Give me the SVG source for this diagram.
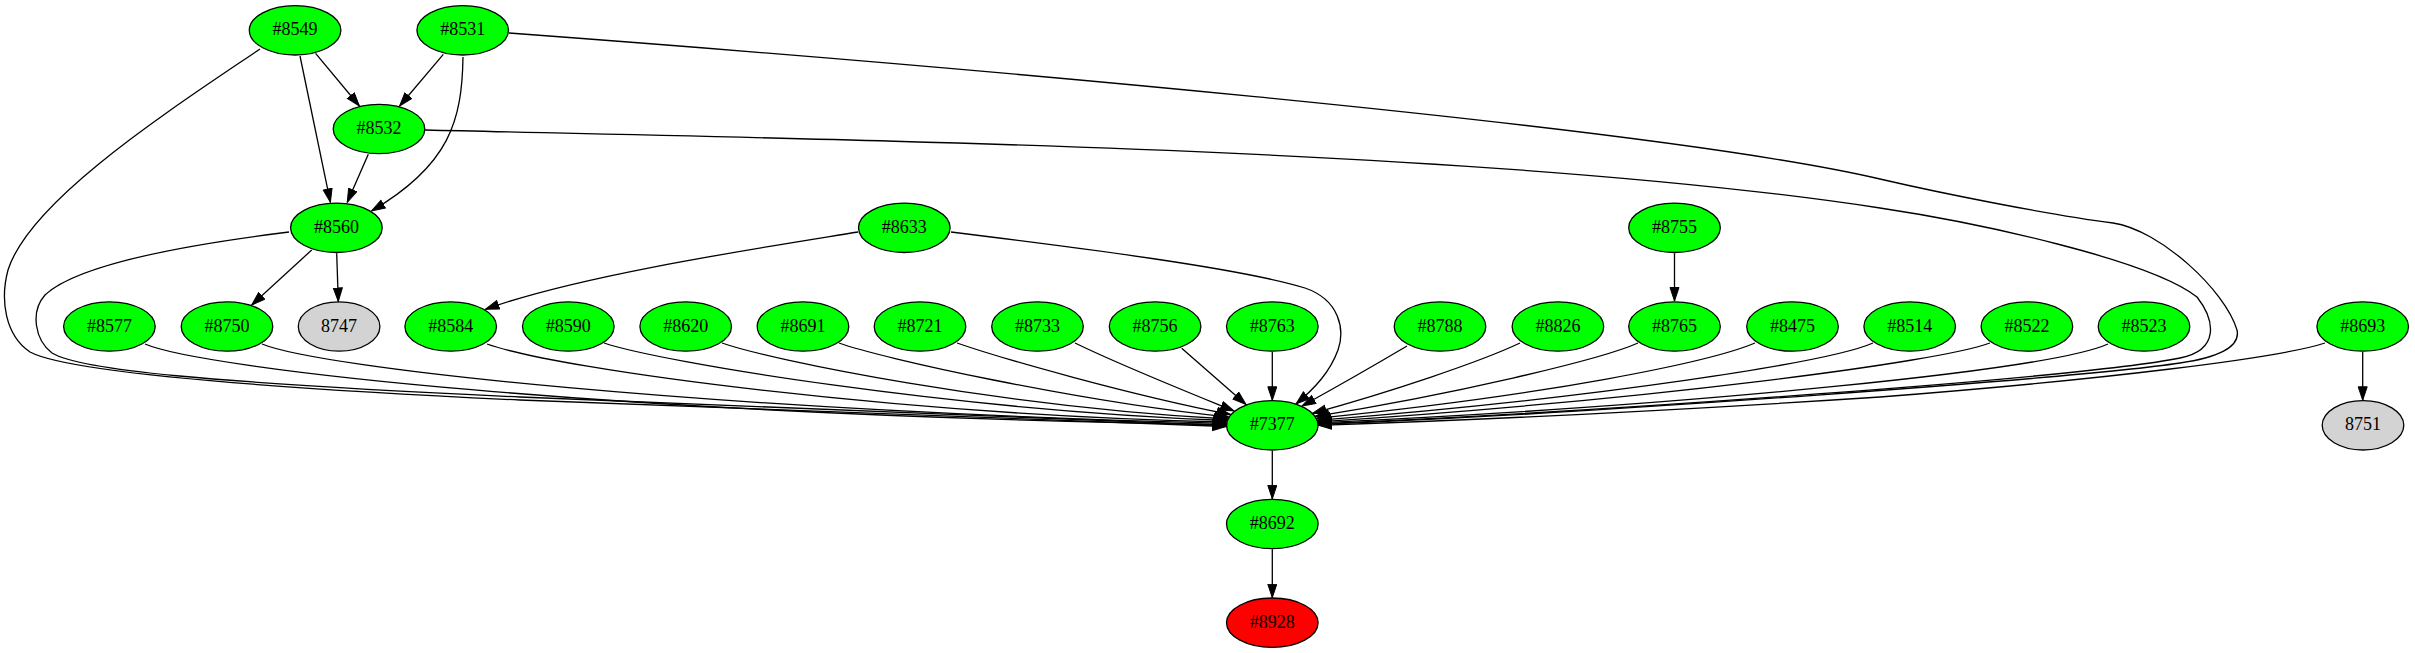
<svg xmlns="http://www.w3.org/2000/svg" width="2415" height="653" viewBox="0 0 2415 653">
<style>
.n ellipse{stroke:#000;stroke-width:1.3}
.g ellipse{fill:#00ff00}
.y ellipse{fill:#d3d3d3}
.r ellipse{fill:#ff0000}
.n text{font-family:"Liberation Serif","Times New Roman",serif;font-size:18px;fill:#000;text-anchor:middle}
#edges path{fill:none;stroke:#000;stroke-width:1.3;marker-end:url(#ah)}
</style>
<defs>
<marker id="ah" markerUnits="userSpaceOnUse" markerWidth="16" markerHeight="12" viewBox="0 0 16 12" refX="14" refY="5" orient="auto">
<path d="M0.5,0.5 L14,5 L0.5,9.5 z" fill="#000" stroke="#000" stroke-width="1"/>
</marker>
</defs>
<rect width="2415" height="653" fill="#fff"/>
<g id="n8549" class="n g"><ellipse cx="295.1" cy="30.3" rx="45.8" ry="24.7"/><text x="295.1" y="35.3">#8549</text></g>
<g id="n8531" class="n g"><ellipse cx="462.7" cy="30.3" rx="45.8" ry="24.7"/><text x="462.7" y="35.3">#8531</text></g>
<g id="n8532" class="n g"><ellipse cx="379" cy="129" rx="45.8" ry="24.7"/><text x="379" y="134">#8532</text></g>
<g id="n8560" class="n g"><ellipse cx="336.4" cy="227.8" rx="45.8" ry="24.7"/><text x="336.4" y="232.8">#8560</text></g>
<g id="n8633" class="n g"><ellipse cx="904.3" cy="227.8" rx="45.8" ry="24.7"/><text x="904.3" y="232.8">#8633</text></g>
<g id="n8755" class="n g"><ellipse cx="1674.5" cy="227.8" rx="45.8" ry="24.7"/><text x="1674.5" y="232.8">#8755</text></g>
<g id="n8577" class="n g"><ellipse cx="109.4" cy="326.5" rx="45.8" ry="24.7"/><text x="109.4" y="331.5">#8577</text></g>
<g id="n8750" class="n g"><ellipse cx="227" cy="326.5" rx="45.8" ry="24.7"/><text x="227" y="331.5">#8750</text></g>
<g id="n8747" class="n y"><ellipse cx="339.1" cy="326.5" rx="40.8" ry="24.7"/><text x="339.1" y="331.5">8747</text></g>
<g id="n8584" class="n g"><ellipse cx="450.7" cy="326.5" rx="45.8" ry="24.7"/><text x="450.7" y="331.5">#8584</text></g>
<g id="n8590" class="n g"><ellipse cx="568.3" cy="326.5" rx="45.8" ry="24.7"/><text x="568.3" y="331.5">#8590</text></g>
<g id="n8620" class="n g"><ellipse cx="685.7" cy="326.5" rx="45.8" ry="24.7"/><text x="685.7" y="331.5">#8620</text></g>
<g id="n8691" class="n g"><ellipse cx="803" cy="326.5" rx="45.8" ry="24.7"/><text x="803" y="331.5">#8691</text></g>
<g id="n8721" class="n g"><ellipse cx="920" cy="326.5" rx="45.8" ry="24.7"/><text x="920" y="331.5">#8721</text></g>
<g id="n8733" class="n g"><ellipse cx="1037.5" cy="326.5" rx="45.8" ry="24.7"/><text x="1037.5" y="331.5">#8733</text></g>
<g id="n8756" class="n g"><ellipse cx="1155.1" cy="326.5" rx="45.8" ry="24.7"/><text x="1155.1" y="331.5">#8756</text></g>
<g id="n8763" class="n g"><ellipse cx="1272.3" cy="326.5" rx="45.8" ry="24.7"/><text x="1272.3" y="331.5">#8763</text></g>
<g id="n8788" class="n g"><ellipse cx="1440" cy="326.5" rx="45.8" ry="24.7"/><text x="1440" y="331.5">#8788</text></g>
<g id="n8826" class="n g"><ellipse cx="1557.9" cy="326.5" rx="45.8" ry="24.7"/><text x="1557.9" y="331.5">#8826</text></g>
<g id="n8765" class="n g"><ellipse cx="1674.5" cy="326.5" rx="45.8" ry="24.7"/><text x="1674.5" y="331.5">#8765</text></g>
<g id="n8475" class="n g"><ellipse cx="1792.5" cy="326.5" rx="45.8" ry="24.7"/><text x="1792.5" y="331.5">#8475</text></g>
<g id="n8514" class="n g"><ellipse cx="1909.7" cy="326.5" rx="45.8" ry="24.7"/><text x="1909.7" y="331.5">#8514</text></g>
<g id="n8522" class="n g"><ellipse cx="2026.9" cy="326.5" rx="45.8" ry="24.7"/><text x="2026.9" y="331.5">#8522</text></g>
<g id="n8523" class="n g"><ellipse cx="2144" cy="326.5" rx="45.8" ry="24.7"/><text x="2144" y="331.5">#8523</text></g>
<g id="n8693" class="n g"><ellipse cx="2362.7" cy="326.5" rx="45.8" ry="24.7"/><text x="2362.7" y="331.5">#8693</text></g>
<g id="n7377" class="n g"><ellipse cx="1272.3" cy="425.3" rx="45.8" ry="24.7"/><text x="1272.3" y="430.3">#7377</text></g>
<g id="n8751" class="n y"><ellipse cx="2363" cy="425.3" rx="40.8" ry="24.7"/><text x="2363" y="430.3">8751</text></g>
<g id="n8692" class="n g"><ellipse cx="1272.3" cy="524" rx="45.8" ry="24.7"/><text x="1272.3" y="529">#8692</text></g>
<g id="n8928" class="n r"><ellipse cx="1272.3" cy="622.7" rx="45.8" ry="24.7"/><text x="1272.3" y="627.7">#8928</text></g>
<g id="edges">
<path d="M315.6,53.3 L359.4,106"/>
<path d="M300,56 L330.4,202.3"/>
<path d="M443.3,54.3 L399.6,106"/>
<path d="M463,57 C462,120 450,165 371.5,211"/>
<path d="M368.3,154.3 L347.3,202.3"/>
<path d="M311.7,250 L251.7,305"/>
<path d="M336.7,253.3 L338.3,301.5"/>
<path d="M858,232 C760,248 580,275 485.5,309.3"/>
<path d="M951,232 C1080,248 1240,268 1305,288 C1340,300 1345,330 1338,350 C1330,372 1315,388 1296,404"/>
<path d="M1674.5,253.3 L1674.5,301"/>
<path d="M2362.7,352 L2362.7,400.3"/>
<path d="M1272.3,352 L1272.3,400.3"/>
<path d="M1272.3,450.7 L1272.3,498.9"/>
<path d="M1272.3,549.3 L1272.3,597.7"/>
<path d="M260,49 C170,110 30,200 8,270 C0,300 5,335 30,352 C60,368 200,385 520,400 C800,412 1050,421 1226.3,426.5"/>
<path d="M289,232 C200,243 80,262 45,295 C30,312 35,340 52,353 C80,370 200,382 520,397 C800,410 1050,419 1226.3,425.5"/>
<path d="M145,344 C200,368 600,415 1226.3,424.5"/>
<path d="M262,344 C320,368 700,410 1226.4,423.3"/>
<path d="M487,344 C560,370 900,415 1226.6,422"/>
<path d="M604,343 C660,362 950,410 1227,420.5"/>
<path d="M722,343 C770,360 1000,407 1227.7,419"/>
<path d="M839,343 C880,358 1080,402 1228.7,417"/>
<path d="M957,343 C1000,358 1130,395 1230.5,414.5"/>
<path d="M1075,343 C1120,365 1190,393 1234,411"/>
<path d="M1181.7,348.3 L1246,404.5"/>
<path d="M1407,346 C1380,362 1340,385 1302,406"/>
<path d="M1520,343 C1480,362 1390,392 1312.6,413.3"/>
<path d="M1638,343 C1600,360 1450,395 1315.3,416.3"/>
<path d="M1755,343 C1710,362 1550,395 1316.5,418.3"/>
<path d="M1873,343 C1830,362 1600,398 1317.4,420.3"/>
<path d="M1990,343 C1940,362 1650,400 1318,421.8"/>
<path d="M2108,344 C2050,370 1700,405 1318.2,422.8"/>
<path d="M2325,343 C2280,358 2100,380 1880,397 C1650,412 1450,421 1318.3,425.3"/>
<path d="M425,130 C900,141 1500,150 1880,208 C1980,223 2150,260 2197,297 C2215,320 2220,350 2180,358 C2080,378 1600,412 1318.3,423.8"/>
<path d="M509,33 C900,62 1650,125 1880,179 C1940,193 2050,215 2113,223 C2160,230 2225,290 2237,330 C2241,348 2215,358 2180,363 C2080,378 1600,413 1318.3,424.5"/>
</g>
</svg>
